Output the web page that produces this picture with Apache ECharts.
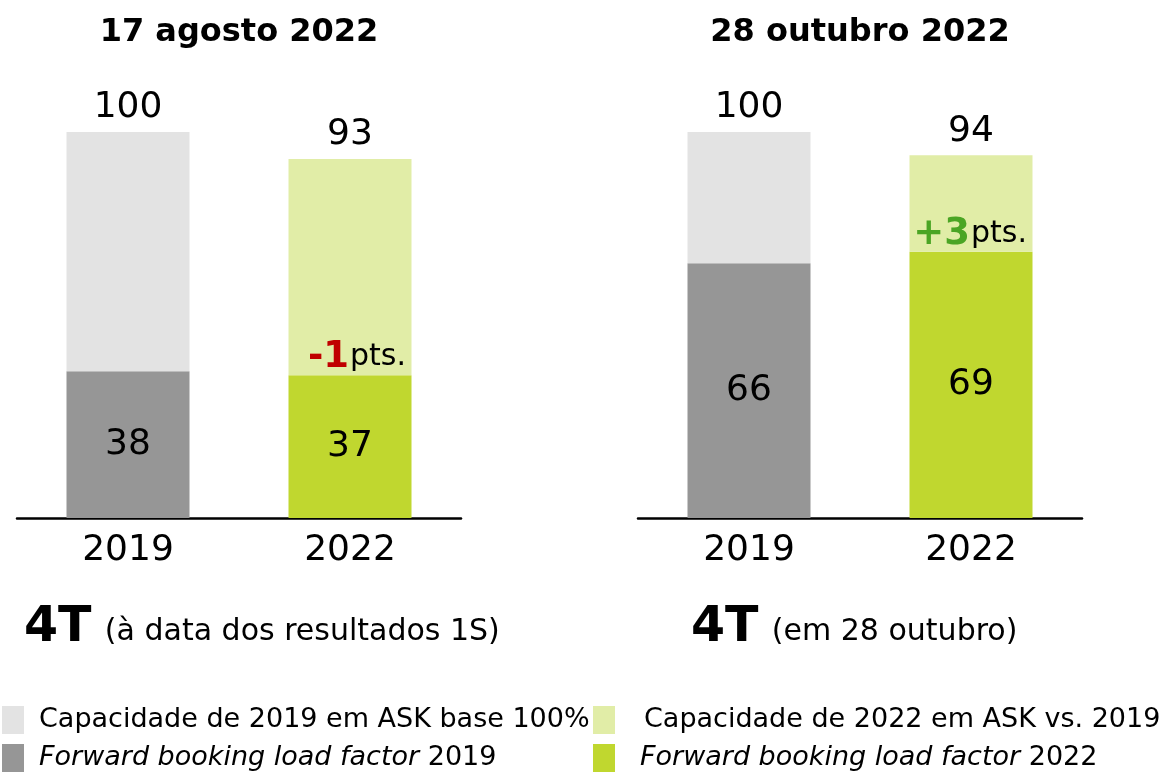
<!DOCTYPE html>
<html>
<head>
<meta charset="utf-8">
<style>
  html, body { margin: 0; padding: 0; background: #ffffff; }
  #chart { width: 1164px; height: 772px; }
</style>
<script src="https://cdn.jsdelivr.net/npm/echarts@6/dist/echarts.min.js"></script>
</head>
<body>
<div id="chart"></div>
<script>
// Categories on each x axis
const categories = ['2019', '2022'];

// One entry per panel (left: 17 Aug 2022, right: 28 Oct 2022)
const panelTitles = ['17 agosto 2022', '28 outubro 2022'];
const periodLabels = ['4T', '4T'];
const periodNotes = ['(à data dos resultados 1S)', '(em 28 outubro)'];

// ASK capacity (2019 = 100) and forward booking load factor, per panel
const capacity2019 = [100, 100];
const capacity2022 = [93, 94];
const loadFactor2019 = [38, 66];
const loadFactor2022 = [37, 69];

// Series / legend names
const NAME_CAP19 = 'Capacidade de 2019 em ASK base 100%';
const NAME_LF19 = 'Forward booking load factor 2019';
const NAME_CAP22 = 'Capacidade de 2022 em ASK vs. 2019';
const NAME_LF22 = 'Forward booking load factor 2022';

const COLORS = {
  cap19: '#E3E3E3',
  lf19: '#969696',
  cap22: '#E1EDA7',
  lf22: '#C0D72F',
  down: '#C00000',
  up: '#4BA524'
};

const FONT = '"DejaVu Sans", Verdana, sans-serif';

// Panel geometry
const gridLefts = [17, 638];
const captionLefts = [24, 691];
const GRID_W = 444;
const GRID_TOP = 132;
const GRID_H = 386;
const BAR_W = 123;

const grids = [], xAxes = [], yAxes = [], series = [], graphics = [];

panelTitles.forEach((title, p) => {
  grids.push({ left: gridLefts[p], top: GRID_TOP, width: GRID_W, height: GRID_H, containLabel: false });
  xAxes.push({
    gridIndex: p,
    type: 'category',
    data: categories,
    axisLine: { lineStyle: { color: '#000', width: 2.5 } },
    axisTick: { show: false },
    axisLabel: { color: '#000', fontSize: 36, fontFamily: FONT, margin: 15 },
    splitLine: { show: false }
  });
  yAxes.push({ gridIndex: p, type: 'value', min: 0, max: 100, show: false, splitLine: { show: false } });

  const valueLabel = { show: true, color: '#000', fontSize: 36, fontFamily: FONT };
  const delta = loadFactor2022[p] - loadFactor2019[p];
  const deltaText = (delta > 0 ? '+' : '') + delta;

  const base = { type: 'bar', xAxisIndex: p, yAxisIndex: p, barWidth: BAR_W, barGap: '-100%' };

  series.push(Object.assign({}, base, {
    name: NAME_LF19, stack: 'y2019-' + p,
    itemStyle: { color: COLORS.lf19 },
    label: Object.assign({ position: 'inside' }, valueLabel),
    data: [loadFactor2019[p], '-']
  }));
  series.push(Object.assign({}, base, {
    name: NAME_CAP19, stack: 'y2019-' + p,
    itemStyle: { color: COLORS.cap19 },
    label: Object.assign({ position: 'top', distance: 6, formatter: () => String(capacity2019[p]) }, valueLabel),
    data: [capacity2019[p] - loadFactor2019[p], '-']
  }));
  series.push(Object.assign({}, base, {
    name: NAME_LF22, stack: 'y2022-' + p,
    itemStyle: { color: COLORS.lf22 },
    label: Object.assign({ position: 'inside' }, valueLabel),
    data: ['-', loadFactor2022[p]],
    markPoint: {
      symbol: 'rect', symbolSize: 0, silent: true,
      data: [{ coord: ['2022', loadFactor2022[p]], value: delta }],
      label: {
        show: true, position: 'top', distance: -1, align: 'right', offset: [56, 0],
        formatter: () => '{d|' + deltaText + '}{u|pts.}',
        rich: {
          d: { fontSize: 37, fontWeight: 'bold', fontFamily: FONT, color: delta < 0 ? COLORS.down : COLORS.up },
          u: { fontSize: 30, fontFamily: FONT, color: '#000', padding: [0, 0, 0, 1] }
        }
      }
    }
  }));
  series.push(Object.assign({}, base, {
    name: NAME_CAP22, stack: 'y2022-' + p,
    itemStyle: { color: COLORS.cap22 },
    label: Object.assign({ position: 'top', distance: 6, formatter: () => String(capacity2022[p]) }, valueLabel),
    data: ['-', capacity2022[p] - loadFactor2022[p]]
  }));

  // Panel heading
  graphics.push({
    type: 'text', x: gridLefts[p] + GRID_W / 2, y: 33,
    style: { text: title, fontSize: 32, fontWeight: 'bold', fontFamily: FONT, fill: '#000',
             textAlign: 'center', textVerticalAlign: 'middle' }
  });
  // Period caption below the axis
  graphics.push({
    type: 'text', x: captionLefts[p], y: 628,
    style: {
      text: '{b|' + periodLabels[p] + '} {n|' + periodNotes[p] + '}',
      textVerticalAlign: 'middle',
      rich: {
        b: { fontSize: 49, fontWeight: 'bold', fontFamily: FONT, fill: '#000' },
        n: { fontSize: 30, fontFamily: FONT, fill: '#000', padding: [8, 0, 0, 10] }
      }
    }
  });
});

const italicise = (name) => name.replace('Forward booking load factor', '{i|Forward booking load factor}');
const legendBase = {
  orient: 'horizontal', padding: 0, itemWidth: 22, itemHeight: 28, selectedMode: false,
  icon: 'rect', formatter: italicise,
  textStyle: {
    color: '#000', fontSize: 27, fontFamily: FONT, padding: [0, 0, 0, 10],
    rich: { i: { fontSize: 27, fontFamily: FONT, fontStyle: 'italic', color: '#000' } }
  }
};
const legends = [
  Object.assign({}, legendBase, { data: [NAME_CAP19], left: 2, top: 706 }),
  Object.assign({}, legendBase, { data: [NAME_LF19], left: 2, top: 744 }),
  Object.assign({}, legendBase, { data: [NAME_CAP22], left: 593, top: 706, textStyle: Object.assign({}, legendBase.textStyle, { padding: [0, 0, 0, 24] }) }),
  Object.assign({}, legendBase, { data: [NAME_LF22], left: 593, top: 744, textStyle: Object.assign({}, legendBase.textStyle, { padding: [0, 0, 0, 20] }) })
];

const chart = echarts.init(document.getElementById('chart'), null, { renderer: 'canvas' });
chart.setOption({
  animation: false,
  backgroundColor: '#ffffff',
  textStyle: { fontFamily: FONT },
  grid: grids,
  xAxis: xAxes,
  yAxis: yAxes,
  legend: legends,
  series: series,
  graphic: graphics
});
</script>
</body>
</html>
